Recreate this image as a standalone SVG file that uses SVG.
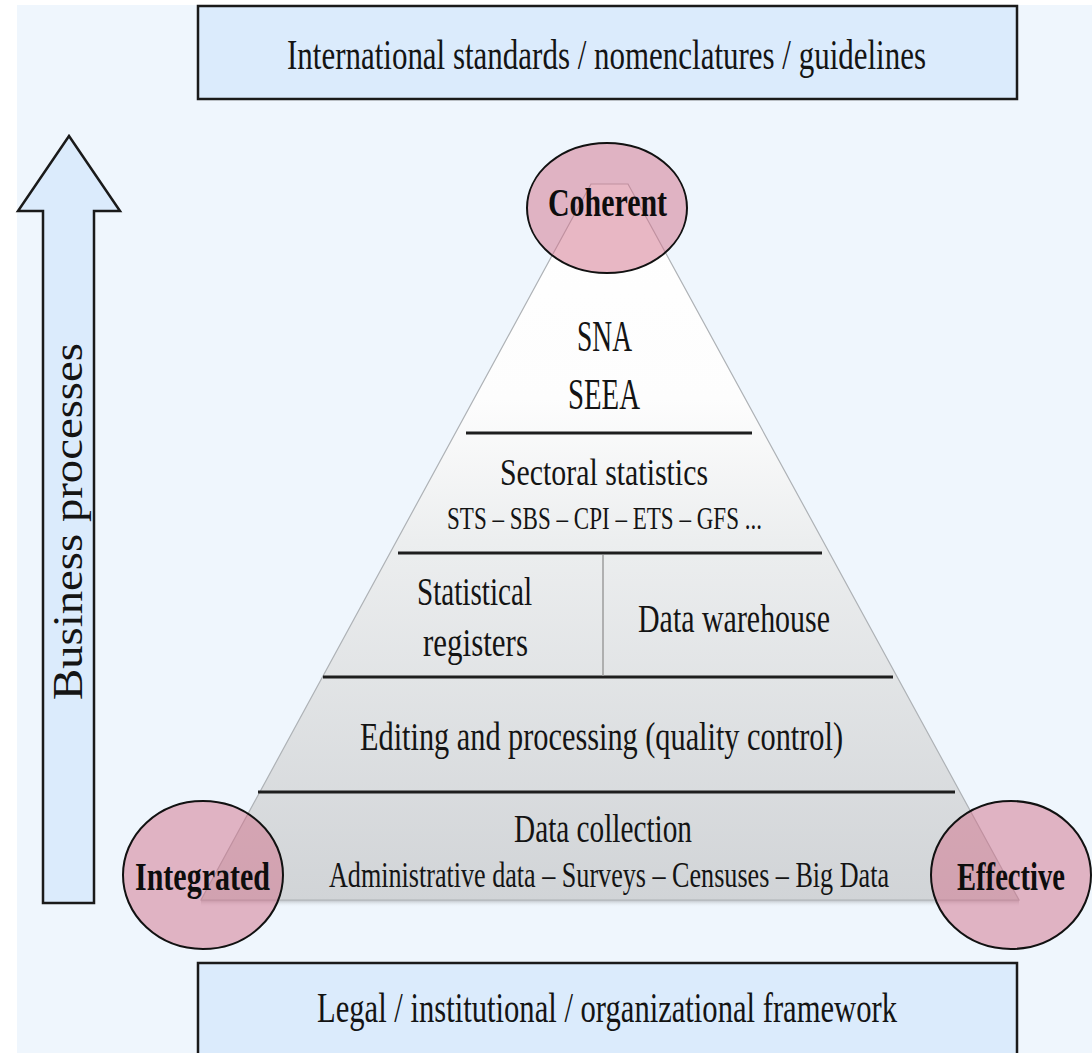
<svg xmlns="http://www.w3.org/2000/svg" width="1092" height="1053" viewBox="0 0 1092 1053">
  <defs>
    <linearGradient id="pyrGrad" x1="0" y1="184" x2="0" y2="900" gradientUnits="userSpaceOnUse">
      <stop offset="0" stop-color="#ffffff"/>
      <stop offset="0.3" stop-color="#fdfdfd"/>
      <stop offset="0.5" stop-color="#eceeef"/>
      <stop offset="1" stop-color="#d1d4d7"/>
    </linearGradient>
    <linearGradient id="shadowGrad" x1="0" y1="0" x2="0" y2="1">
      <stop offset="0" stop-color="#a9adb1"/>
      <stop offset="1" stop-color="#eef5fc" stop-opacity="0"/>
    </linearGradient>
    <style>
      .box { fill: #dbebfc; stroke: #1a1a1a; stroke-width: 2.5; }
      .txt { font-family: "Liberation Serif", "DejaVu Serif", serif; fill: #141414; }
      .bold { font-weight: bold; fill: #0d0d0d; }
      .sep { stroke: #1e1e1e; stroke-width: 3; }
      .ell { fill: #d2708a; fill-opacity: 0.5; stroke: #111; stroke-width: 2; }
    </style>
  </defs>

  <rect x="0" y="0" width="1092" height="1053" fill="#ffffff"/>
  <rect x="17" y="5" width="1075" height="1048" fill="#eff6fd"/>

  <g id="top-box">
    <rect class="box" x="198" y="6" width="819" height="93"/>
    <text class="txt" x="287" y="69" font-size="42" textLength="639" lengthAdjust="spacingAndGlyphs">International standards / nomenclatures / guidelines</text>
  </g>

  <g id="bottom-box">
    <rect class="box" x="198" y="963" width="819" height="95"/>
    <text class="txt" x="317" y="1022" font-size="42" textLength="580" lengthAdjust="spacingAndGlyphs">Legal / institutional / organizational framework</text>
  </g>

  <g id="business-arrow">
    <polygon class="box" points="69,136 120,211 94,211 94,903 43,903 43,211 18,211"/>
    <text class="txt" transform="translate(82,700) rotate(-90)" x="0" y="0" font-size="42" textLength="357" lengthAdjust="spacingAndGlyphs">Business processes</text>
  </g>

  <g id="pyramid">
    <rect x="201" y="899" width="818" height="8" fill="url(#shadowGrad)"/>
    <polygon points="591,184 628,184 1019,900 201,900" fill="url(#pyrGrad)" stroke="#aeb2b6" stroke-width="1.2"/>
  </g>

  <g id="connectors">
    <line class="sep" x1="466" y1="433" x2="752" y2="433"/>
    <line class="sep" x1="398" y1="553" x2="822" y2="553"/>
    <line class="sep" x1="323" y1="677" x2="893" y2="677"/>
    <line class="sep" x1="258" y1="792" x2="955" y2="792"/>
    <line x1="603" y1="555" x2="603" y2="676" stroke="#9c9c9c" stroke-width="1.5"/>
  </g>

  <g id="layer-sna">
    <text class="txt" x="577" y="351" font-size="44" textLength="55" lengthAdjust="spacingAndGlyphs">SNA</text>
    <text class="txt" x="568" y="409" font-size="44" textLength="72" lengthAdjust="spacingAndGlyphs">SEEA</text>
  </g>

  <g id="layer-sectoral">
    <text class="txt" x="500" y="485" font-size="38" textLength="208" lengthAdjust="spacingAndGlyphs">Sectoral statistics</text>
    <text class="txt" x="447" y="529" font-size="32" textLength="315" lengthAdjust="spacingAndGlyphs">STS – SBS – CPI – ETS – GFS ...</text>
  </g>

  <g id="layer-registers">
    <text class="txt" x="417" y="605" font-size="40" textLength="115" lengthAdjust="spacingAndGlyphs">Statistical</text>
    <text class="txt" x="423" y="656" font-size="40" textLength="105" lengthAdjust="spacingAndGlyphs">registers</text>
  </g>

  <g id="layer-warehouse">
    <text class="txt" x="638" y="632" font-size="40" textLength="192" lengthAdjust="spacingAndGlyphs">Data warehouse</text>
  </g>

  <g id="layer-editing">
    <text class="txt" x="360" y="750" font-size="40" textLength="483" lengthAdjust="spacingAndGlyphs">Editing and processing (quality control)</text>
  </g>

  <g id="layer-collection">
    <text class="txt" x="514" y="842" font-size="40" textLength="178" lengthAdjust="spacingAndGlyphs">Data collection</text>
    <text class="txt" x="329" y="887" font-size="36" textLength="560" lengthAdjust="spacingAndGlyphs">Administrative data – Surveys – Censuses – Big Data</text>
  </g>

  <g id="coherent">
    <ellipse class="ell" cx="607" cy="208" rx="80" ry="65"/>
    <text class="txt bold" x="548" y="216" font-size="41" textLength="119" lengthAdjust="spacingAndGlyphs">Coherent</text>
  </g>

  <g id="integrated">
    <ellipse class="ell" cx="203" cy="875" rx="80" ry="74"/>
    <text class="txt bold" x="135" y="890" font-size="41" textLength="135" lengthAdjust="spacingAndGlyphs">Integrated</text>
  </g>

  <g id="effective">
    <ellipse class="ell" cx="1011" cy="875" rx="80" ry="74"/>
    <text class="txt bold" x="957" y="890" font-size="41" textLength="108" lengthAdjust="spacingAndGlyphs">Effective</text>
  </g>
</svg>
